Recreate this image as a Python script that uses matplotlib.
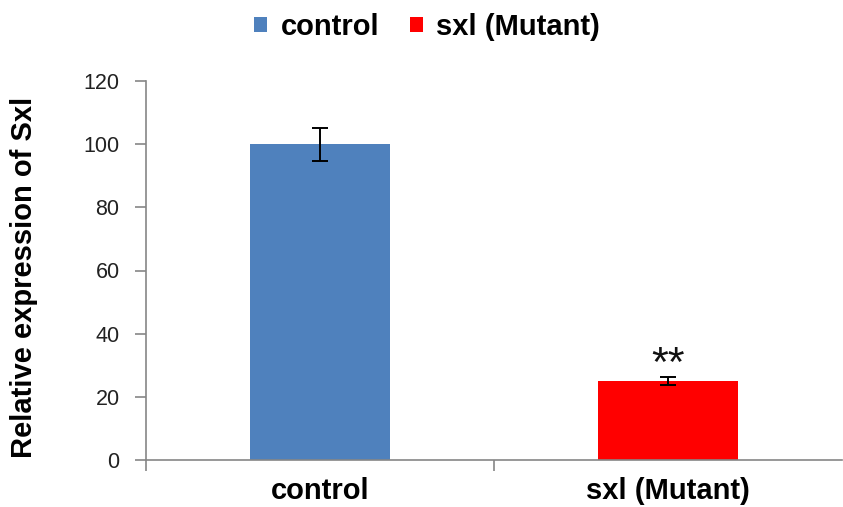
import matplotlib
matplotlib.use("Agg")
import matplotlib.pyplot as plt
from matplotlib.patches import Patch

categories = ["control", "sxl (Mutant)"]
values = [100, 25]
errors = [5.2, 1.2]
colors = ["#4F81BD", "#FF0000"]
y_ticks = [0, 20, 40, 60, 80, 100, 120]
stars = ["", "**"]

plt.rcParams["font.family"] = ["Liberation Sans", "DejaVu Sans"]

fig = plt.figure(figsize=(8.43, 5.07), dpi=100)
ax = fig.add_axes([146 / 843, 47 / 507, 696 / 843, 379 / 507])

x = list(range(len(categories)))
ax.bar(x, values, width=0.40, color=colors, zorder=2)
ax.errorbar(x, values, yerr=errors, fmt="none", ecolor="black",
            elinewidth=1.4, capsize=6, capthick=1.4, zorder=3)

for xi, v, e, s in zip(x, values, errors, stars):
    if s:
        ax.text(xi, v + e - 2.6, s, ha="center", va="bottom",
                fontsize=31, color="#111111")

ax.set_xlim(-0.5, len(categories) - 0.5)
ax.set_ylim(0, 120)
ax.set_yticks(y_ticks)
ax.set_yticklabels([str(t) for t in y_ticks], fontsize=15.5, color="#222222")

ax.set_xticks([-0.5, 0.5], minor=False)
ax.set_xticklabels([])
ax.set_xticks(x, minor=True)
ax.set_xticklabels(categories, minor=True, fontsize=21, fontweight="bold")
ax.tick_params(axis="x", which="minor", length=0, pad=12)
ax.tick_params(axis="x", which="major", length=8, color="#868686", width=1.2)
ax.tick_params(axis="y", length=8, color="#868686", width=1.2, pad=11)

for side in ["top", "right"]:
    ax.spines[side].set_visible(False)
for side in ["left", "bottom"]:
    ax.spines[side].set_color("#868686")
    ax.spines[side].set_linewidth(1.2)

ax.set_ylabel("Relative expression of Sxl", fontsize=21, fontweight="bold")
ax.yaxis.set_label_coords((38 - 146) / 696, (460 - 277) / 379)

handles = [Patch(facecolor=c, label=l) for c, l in zip(colors, categories)]
fig.legend(handles=handles, loc="center", bbox_to_anchor=(427 / 843, 1 - 27 / 507),
           ncol=2, frameon=False, prop={"size": 21, "weight": "bold"},
           handlelength=0.45, handleheight=0.45, handletextpad=0.45,
           columnspacing=1.05)

fig.savefig("out.png", dpi=100)
